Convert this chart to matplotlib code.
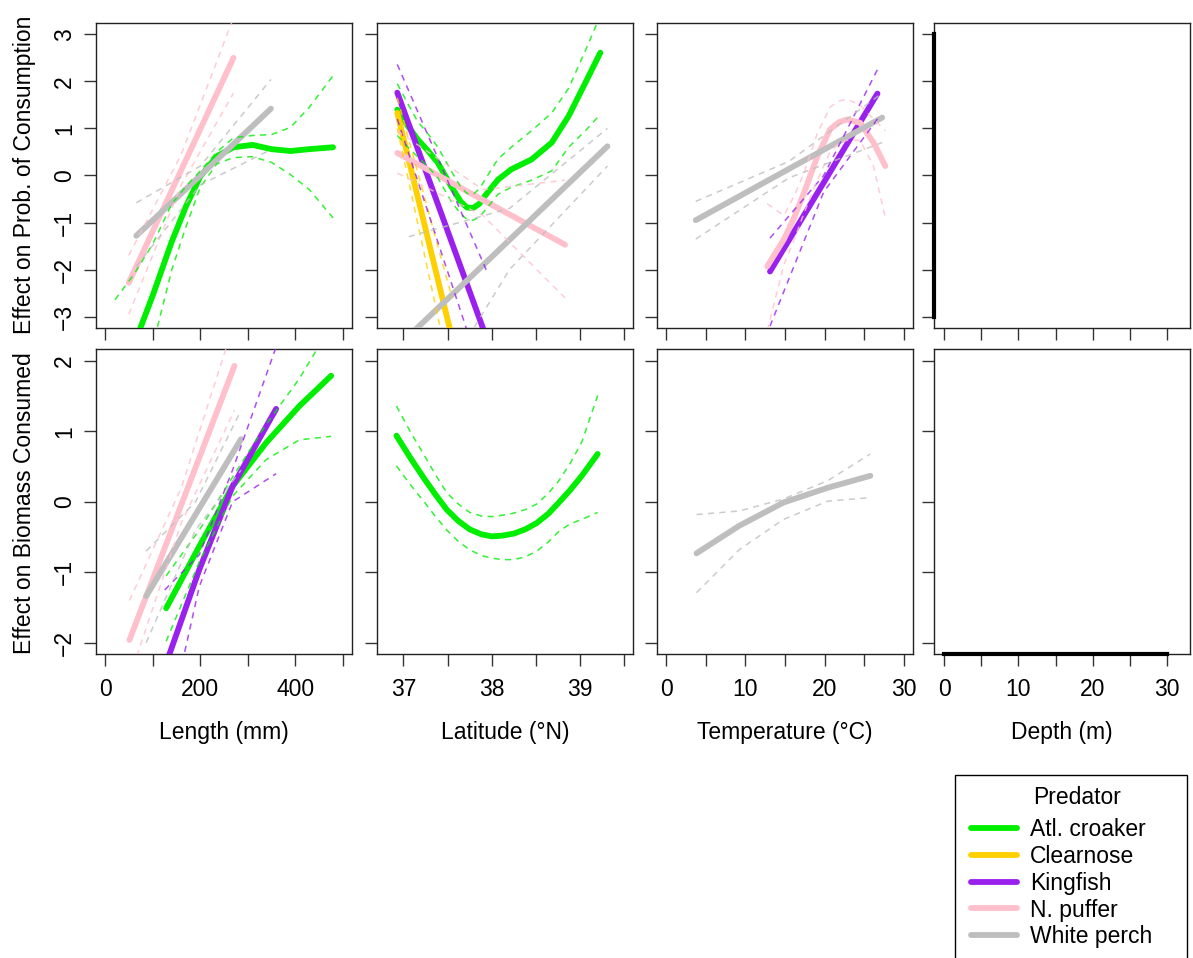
import matplotlib

matplotlib.use("Agg")

import matplotlib.pyplot as plt
from matplotlib.lines import Line2D
from matplotlib.patches import Rectangle

plt.rcParams["font.family"] = ["Liberation Sans", "DejaVu Sans"]
plt.rcParams["font.size"] = 16.5

W, H = 1193, 958

PREDATORS = ["Atl. croaker", "Clearnose", "Kingfish", "N. puffer", "White perch"]
COLORS = ["#00ee00", "#ffd000", "#9a20ee", "#ffc0cb", "#bebebe"]

# ---- Length vs probability of consumption ----
LEN_P_CROAKER_X = [20, 60, 100, 140, 170, 200, 235, 270, 310, 350, 390, 430, 480]
LEN_P_CROAKER_FIT = [-4.9, -3.6, -2.54, -1.4, -0.65, -0.02, 0.41, 0.6, 0.65, 0.56, 0.52, 0.56, 0.6]
LEN_P_CROAKER_HI = [-2.64, -2.1, -1.45, -0.6, -0.23, 0.1, 0.5, 0.8, 0.85, 0.87, 1.02, 1.45, 2.12]
LEN_P_CROAKER_LO = [-7.0, -5.0, -3.6, -2.0, -1.08, -0.25, 0.25, 0.38, 0.4, 0.28, 0.02, -0.3, -0.9]

LEN_P_PUFFER_X = [49, 160, 270]
LEN_P_PUFFER_FIT = [-2.28, 0.12, 2.5]
LEN_P_PUFFER_HI = [-1.7, 0.45, 3.35]
LEN_P_PUFFER_LO = [-2.95, -0.2, 1.75]

LEN_P_PERCH_X = [65, 200, 349]
LEN_P_PERCH_FIT = [-1.28, 0.0, 1.42]
LEN_P_PERCH_HI = [-0.58, 0.2, 2.04]
LEN_P_PERCH_LO = [-1.93, -0.2, 0.55]

# ---- Latitude vs probability of consumption ----
LAT_P_CROAKER_X = [36.93, 37.05, 37.16, 37.28, 37.39, 37.54, 37.65, 37.72, 37.79, 37.86, 37.92,
                   38.07, 38.22, 38.45, 38.68, 38.87, 39.06, 39.23]
LAT_P_CROAKER_FIT = [1.40, 1.05, 0.77, 0.52, 0.27, -0.23, -0.56, -0.68, -0.69, -0.60, -0.44,
                     -0.09, 0.13, 0.34, 0.70, 1.26, 1.97, 2.61]
LAT_P_CROAKER_HI = [1.95, 1.52, 1.15, 0.88, 0.6, 0.1, -0.25, -0.38, -0.4, -0.28, -0.1,
                    0.35, 0.6, 0.95, 1.33, 1.85, 2.65, 3.4]
LAT_P_CROAKER_LO = [0.85, 0.6, 0.4, 0.18, -0.05, -0.55, -0.82, -0.93, -0.95, -0.88, -0.75,
                    -0.4, -0.25, -0.1, 0.1, 0.6, 0.95, 1.3]

LAT_P_CLEARNOSE_X = [36.93, 37.55]
LAT_P_CLEARNOSE_FIT = [1.33, -3.45]
LAT_P_CLEARNOSE_HI = [1.65, -2.6]
LAT_P_CLEARNOSE_LO = [1.0, -4.4]

LAT_P_KINGFISH_X = [36.93, 37.95]
LAT_P_KINGFISH_FIT = [1.76, -3.5]
LAT_P_KINGFISH_HI = [2.36, -2.06]
LAT_P_KINGFISH_LO = [1.2, -4.6]

LAT_P_PUFFER_X = [36.93, 37.9, 38.83]
LAT_P_PUFFER_FIT = [0.48, -0.52, -1.47]
LAT_P_PUFFER_HI = [0.95, -0.3, -0.1]
LAT_P_PUFFER_LO = [0.05, -0.85, -2.6]

LAT_P_PERCH_X = [37.06, 38.2, 39.31]
LAT_P_PERCH_FIT = [-3.41, -1.37, 0.62]
LAT_P_PERCH_HI = [-1.3, -0.7, 1.0]
LAT_P_PERCH_LO = [-5.5, -2.0, 0.2]

# ---- Temperature vs probability of consumption ----
TMP_P_KINGFISH_X = [13.1, 19.9, 26.7]
TMP_P_KINGFISH_FIT = [-2.04, -0.15, 1.74]
TMP_P_KINGFISH_HI = [-1.33, 0.0, 2.25]
TMP_P_KINGFISH_LO = [-3.2, -0.35, 1.2]

TMP_P_PUFFER_X = [12.75, 14.85, 16.2, 17.4, 19.1, 20.7, 21.8, 22.85, 24.5, 26.2, 27.7]
TMP_P_PUFFER_FIT = [-1.93, -1.36, -0.88, -0.37, 0.41, 0.98, 1.13, 1.19, 1.12, 0.70, 0.20]
TMP_P_PUFFER_HI = [-0.6, -0.85, -0.42, 0.05, 0.9, 1.45, 1.58, 1.62, 1.5, 1.2, 0.95]
TMP_P_PUFFER_LO = [-3.3, -1.9, -1.35, -0.8, -0.1, 0.5, 0.68, 0.75, 0.75, 0.2, -0.9]

TMP_P_PERCH_X = [3.7, 15.5, 27.3]
TMP_P_PERCH_FIT = [-0.95, 0.14, 1.23]
TMP_P_PERCH_HI = [-0.55, 0.3, 1.75]
TMP_P_PERCH_LO = [-1.35, -0.05, 0.7]

# ---- Length vs biomass consumed ----
LEN_B_CROAKER_X = [128, 198, 268, 339, 409, 476]
LEN_B_CROAKER_FIT = [-1.51, -0.63, 0.22, 0.84, 1.36, 1.79]
LEN_B_CROAKER_HI = [-1.05, -0.4, 0.35, 1.1, 1.75, 2.5]
LEN_B_CROAKER_LO = [-1.98, -0.85, 0.08, 0.6, 0.88, 0.93]

LEN_B_KINGFISH_X = [125, 198, 268, 360]
LEN_B_KINGFISH_FIT = [-2.35, -0.96, 0.22, 1.32]
LEN_B_KINGFISH_HI = [-1.25, -0.75, 0.45, 2.2]
LEN_B_KINGFISH_LO = [-3.4, -1.2, 0.0, 0.4]

LEN_B_PUFFER_X = [50.6, 160, 272]
LEN_B_PUFFER_FIT = [-1.96, -0.04, 1.93]
LEN_B_PUFFER_HI = [-1.4, 0.2, 2.55]
LEN_B_PUFFER_LO = [-2.5, -0.3, 1.3]

LEN_B_PERCH_X = [85.7, 190, 286]
LEN_B_PERCH_FIT = [-1.34, -0.18, 0.89]
LEN_B_PERCH_HI = [-0.7, 0.0, 1.3]
LEN_B_PERCH_LO = [-2.0, -0.4, 0.45]

# ---- Latitude vs biomass consumed ----
LAT_B_CROAKER_X = [36.92, 37.08, 37.24, 37.37, 37.49, 37.62, 37.75, 37.88, 38.0, 38.12,
                   38.25, 38.38, 38.51, 38.64, 38.76, 38.89, 39.02, 39.2]
LAT_B_CROAKER_FIT = [0.94, 0.62, 0.32, 0.09, -0.11, -0.27, -0.39, -0.46, -0.49, -0.48,
                     -0.45, -0.39, -0.30, -0.17, -0.01, 0.17, 0.37, 0.68]
LAT_B_CROAKER_HI = [1.36, 0.99, 0.65, 0.37, 0.13, -0.03, -0.15, -0.2, -0.21, -0.19,
                    -0.16, -0.11, -0.03, 0.12, 0.30, 0.55, 0.85, 1.51]
LAT_B_CROAKER_LO = [0.51, 0.24, -0.01, -0.22, -0.40, -0.56, -0.68, -0.76, -0.80, -0.82,
                    -0.82, -0.78, -0.70, -0.57, -0.42, -0.31, -0.25, -0.15]

# ---- Temperature vs biomass consumed ----
TMP_B_PERCH_X = [3.8, 9.2, 14.8, 20.4, 25.8]
TMP_B_PERCH_FIT = [-0.73, -0.34, -0.01, 0.20, 0.37]
TMP_B_PERCH_HI = [-0.18, -0.13, 0.04, 0.30, 0.68]
TMP_B_PERCH_LO = [-1.29, -0.68, -0.25, 0.01, 0.06]

# axis setup
X_LABELS = ["Length (mm)", "Latitude (\u00b0N)", "Temperature (\u00b0C)", "Depth (m)"]
X_LIMS = [(-20, 520), (36.70, 39.60), (-1.2, 31.2), (-1.35, 33.05)]
X_TICKS = [
    [0, 100, 200, 300, 400, 500],
    [37, 37.5, 38, 38.5, 39, 39.5],
    [0, 5, 10, 15, 20, 25, 30],
    [0, 5, 10, 15, 20, 25, 30],
]
X_TICK_LABELS = [
    ["0", "", "200", "", "400", ""],
    ["37", "", "38", "", "39", ""],
    ["0", "", "10", "", "20", "", "30"],
    ["0", "", "10", "", "20", "", "30"],
]
Y_LABELS = ["Effect on Prob. of Consumption", "Effect on Biomass Consumed"]
Y_LIMS = [(-3.24, 3.24), (-2.16, 2.17)]
Y_TICKS = [[-3, -2, -1, 0, 1, 2, 3], [-2, -1, 0, 1, 2]]

PANELS = {
    (0, 0): [
        (0, LEN_P_CROAKER_X, LEN_P_CROAKER_FIT, LEN_P_CROAKER_LO, LEN_P_CROAKER_HI),
        (3, LEN_P_PUFFER_X, LEN_P_PUFFER_FIT, LEN_P_PUFFER_LO, LEN_P_PUFFER_HI),
        (4, LEN_P_PERCH_X, LEN_P_PERCH_FIT, LEN_P_PERCH_LO, LEN_P_PERCH_HI),
    ],
    (0, 1): [
        (0, LAT_P_CROAKER_X, LAT_P_CROAKER_FIT, LAT_P_CROAKER_LO, LAT_P_CROAKER_HI),
        (1, LAT_P_CLEARNOSE_X, LAT_P_CLEARNOSE_FIT, LAT_P_CLEARNOSE_LO, LAT_P_CLEARNOSE_HI),
        (2, LAT_P_KINGFISH_X, LAT_P_KINGFISH_FIT, LAT_P_KINGFISH_LO, LAT_P_KINGFISH_HI),
        (3, LAT_P_PUFFER_X, LAT_P_PUFFER_FIT, LAT_P_PUFFER_LO, LAT_P_PUFFER_HI),
        (4, LAT_P_PERCH_X, LAT_P_PERCH_FIT, LAT_P_PERCH_LO, LAT_P_PERCH_HI),
    ],
    (0, 2): [
        (2, TMP_P_KINGFISH_X, TMP_P_KINGFISH_FIT, TMP_P_KINGFISH_LO, TMP_P_KINGFISH_HI),
        (3, TMP_P_PUFFER_X, TMP_P_PUFFER_FIT, TMP_P_PUFFER_LO, TMP_P_PUFFER_HI),
        (4, TMP_P_PERCH_X, TMP_P_PERCH_FIT, TMP_P_PERCH_LO, TMP_P_PERCH_HI),
    ],
    (0, 3): [],
    (1, 0): [
        (0, LEN_B_CROAKER_X, LEN_B_CROAKER_FIT, LEN_B_CROAKER_LO, LEN_B_CROAKER_HI),
        (2, LEN_B_KINGFISH_X, LEN_B_KINGFISH_FIT, LEN_B_KINGFISH_LO, LEN_B_KINGFISH_HI),
        (3, LEN_B_PUFFER_X, LEN_B_PUFFER_FIT, LEN_B_PUFFER_LO, LEN_B_PUFFER_HI),
        (4, LEN_B_PERCH_X, LEN_B_PERCH_FIT, LEN_B_PERCH_LO, LEN_B_PERCH_HI),
    ],
    (1, 1): [
        (0, LAT_B_CROAKER_X, LAT_B_CROAKER_FIT, LAT_B_CROAKER_LO, LAT_B_CROAKER_HI),
    ],
    (1, 2): [
        (4, TMP_B_PERCH_X, TMP_B_PERCH_FIT, TMP_B_PERCH_LO, TMP_B_PERCH_HI),
    ],
    (1, 3): [],
}

COL_LEFT = [96, 377, 657, 934]
ROW_TOP = [23, 349]
BOX_W, BOX_H = 256, 305
DASH = (0, (4, 3.5))


def add_box(fig, left, top):
    rect = [left / W, 1 - (top + BOX_H) / H, BOX_W / W, BOX_H / H]
    return fig.add_axes(rect)


def draw_effect(ax, idx, x, fit, lo, hi):
    color = COLORS[idx]
    ax.plot(x, fit, color=color, lw=4.2, solid_capstyle="round",
            solid_joinstyle="round", zorder=3)
    for band in (lo, hi):
        ax.plot(x, band, color=color, lw=1.1, linestyle=DASH, alpha=0.8, zorder=4)


fig = plt.figure(figsize=(W / 100, H / 100), dpi=100)

for (row, col), series in PANELS.items():
    ax = add_box(fig, COL_LEFT[col], ROW_TOP[row])
    for idx, x, fit, lo, hi in series:
        draw_effect(ax, idx, x, fit, lo, hi)

    ax.set_xlim(*X_LIMS[col])
    ax.set_ylim(*Y_LIMS[row])
    ax.set_xticks(X_TICKS[col])
    ax.set_yticks(Y_TICKS[row])
    ax.set_xticklabels(X_TICK_LABELS[col])
    ax.tick_params(direction="out", length=8.5, width=1.0, color="#333333", pad=6)
    ax.tick_params(axis="x", pad=9)
    if row == 0:
        ax.tick_params(labelbottom=False)
    if col > 0:
        ax.tick_params(labelleft=False)
    else:
        for lab in ax.get_yticklabels():
            lab.set_rotation(90)
            lab.set_va("center")
    for spine in ax.spines.values():
        spine.set_linewidth(1.0)
        spine.set_color("#222222")

    # depth panels carry a heavy axis line and no fitted effects
    if col == 3:
        if row == 0:
            ax.plot([X_LIMS[3][0]] * 2, [Y_TICKS[0][0], Y_TICKS[0][-1]],
                    color="black", lw=3, clip_on=False, zorder=5)
        else:
            ax.plot([X_TICKS[3][0], X_TICKS[3][-1]], [Y_LIMS[1][0]] * 2,
                    color="black", lw=3, clip_on=False, zorder=5)

    if row == 1:
        fig.text((COL_LEFT[col] + BOX_W / 2) / W, 1 - 733 / H, X_LABELS[col],
                 ha="center", va="center")

fig.text(25 / W, 1 - 175 / H, Y_LABELS[0], rotation=90, ha="center", va="center")
fig.text(25 / W, 1 - 503 / H, Y_LABELS[1], rotation=90, ha="center", va="center")

# legend: open-bottomed frame running off the page, title and entries inside
fig.add_artist(Rectangle((955 / W, -0.02), 232 / W, 0.02 + 1 - 775 / H,
                         transform=fig.transFigure, fill=False,
                         edgecolor="black", linewidth=1.0))
fig.text(1077 / W, 1 - 797 / H, "Predator", ha="center", va="center")
handles = [Line2D([], [], color=c, lw=4.2, solid_capstyle="round") for c in COLORS]
fig.legend(
    handles, PREDATORS, loc="upper left",
    bbox_to_anchor=(971 / W, 1 - 818.5 / H),
    frameon=False, fontsize=16.5, handlelength=2.0, handletextpad=0.57,
    labelspacing=0.16, borderpad=0, borderaxespad=0,
)

fig.savefig("out.png", dpi=100)
